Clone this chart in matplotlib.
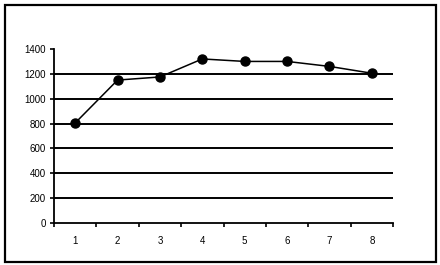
import matplotlib
matplotlib.use('Agg')
import matplotlib.pyplot as plt
from matplotlib.patches import Rectangle
import numpy as np

# values
categories = [1, 2, 3, 4, 5, 6, 7, 8]
values = [805, 1150, 1175, 1320, 1300, 1300, 1260, 1205]
y_ticks = [0, 200, 400, 600, 800, 1000, 1200, 1400]

plt.rcParams['font.family'] = ['Liberation Sans', 'DejaVu Sans']

fig = plt.figure(figsize=(4.4, 2.65), dpi=100)
fig.patches.append(Rectangle((5 / 440, 3 / 265), 431 / 440, 257 / 265,
                             transform=fig.transFigure, fill=False,
                             edgecolor='black', linewidth=1.6))

ax = fig.add_axes([54 / 440, 42 / 265, 339 / 440, 174 / 265])

for y in y_ticks[1:-1]:
    ax.axhline(y, color='black', linewidth=1.4, zorder=1)

ax.plot(categories, values, color='black', linewidth=1.1,
        marker='o', markersize=6.5, zorder=3)

ax.set_xlim(0.5, 8.5)
ax.set_ylim(0, 1400)
ax.set_yticks(y_ticks)
ax.set_yticklabels([str(v) for v in y_ticks], fontsize=7)

ax.set_xticks(np.arange(0.5, 9, 1))
ax.set_xticklabels([])
ax.set_xticks(categories, minor=True)
ax.set_xticklabels([str(c) for c in categories], minor=True, fontsize=7)
ax.tick_params(axis='x', which='major', direction='out', length=3, width=1.2)
ax.tick_params(axis='x', which='minor', length=0, pad=9)
ax.tick_params(axis='y', direction='out', length=3, width=1.2, pad=3)

ax.spines['top'].set_visible(False)
ax.spines['right'].set_visible(False)
ax.spines['left'].set_linewidth(1.3)
ax.spines['bottom'].set_linewidth(1.3)

fig.savefig('out.png', dpi=100)
